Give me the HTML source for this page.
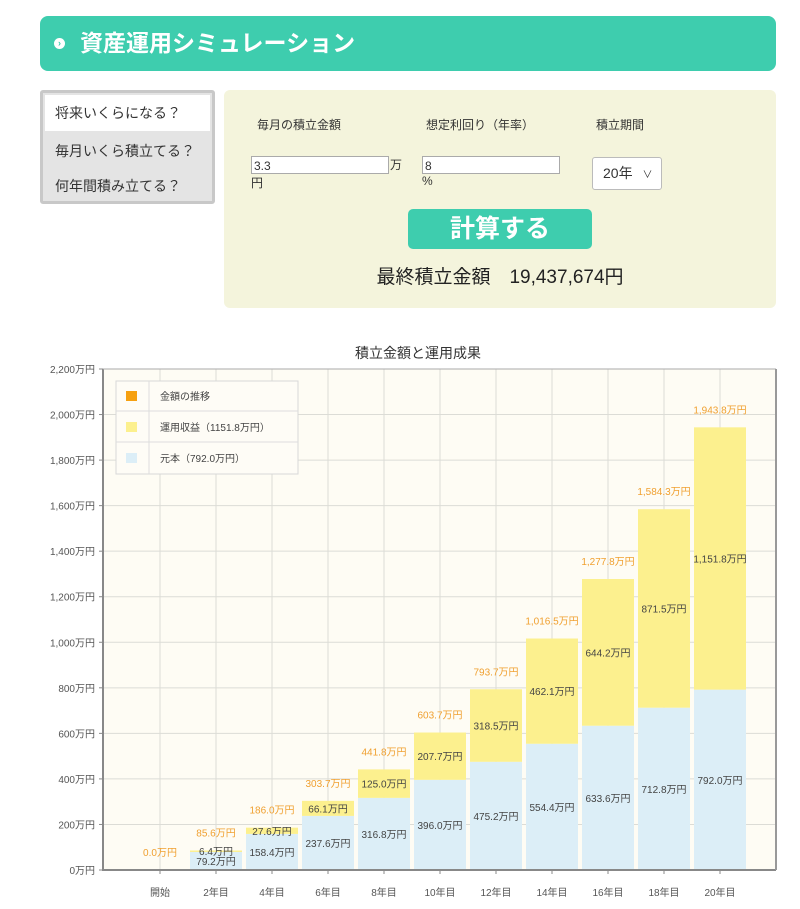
<!DOCTYPE html>
<html><head><meta charset="utf-8">
<style>
body{margin:0;width:800px;height:909px;background:#fff;font-family:"Liberation Sans","Noto Sans CJK JP",sans-serif;position:relative;overflow:hidden}
.abs{position:absolute}
</style></head><body>
<div class="abs" style="left:40px;top:16px;width:736px;height:55px;background:#3ecdae;border-radius:8px">
  <div class="abs" style="left:14px;top:22px;width:11px;height:11px;border-radius:50%;background:#fff;color:#3ecdae;font-size:9px;line-height:11px;text-align:center;font-weight:bold">›</div>
  <div class="abs" style="left:40px;top:12px;color:#fff;font-size:23px;font-weight:bold;line-height:30px">資産運用シミュレーション</div>
</div>
<div class="abs" style="left:40px;top:90px;width:175px;height:114px;background:#e4e4e4;border:3px solid #c8c8c8;box-sizing:border-box;border-radius:3px">
  <div class="abs" style="left:2px;top:2px;width:165px;height:36px;background:#fff;font-size:14px;line-height:36px;padding-left:10px;box-sizing:border-box;color:#333">将来いくらになる？</div>
  <div class="abs" style="left:2px;top:40px;width:165px;height:36px;font-size:14px;line-height:36px;padding-left:10px;box-sizing:border-box;color:#333">毎月いくら積立てる？</div>
  <div class="abs" style="left:2px;top:75px;width:165px;height:36px;font-size:14px;line-height:36px;padding-left:10px;box-sizing:border-box;color:#333">何年間積み立てる？</div>
</div>
<div class="abs" style="left:224px;top:90px;width:552px;height:218px;background:#f4f4dc;border-radius:6px;color:#333">
  <div class="abs" style="left:33px;top:26px;font-size:12px">毎月の積立金額</div>
  <div class="abs" style="left:202px;top:26px;font-size:12px">想定利回り（年率）</div>
  <div class="abs" style="left:372px;top:26px;font-size:12px">積立期間</div>
  <div class="abs" style="left:27px;top:66px;width:138px;height:18px;background:#fff;border:1px solid #aaa;font-size:12px;line-height:18px;padding-left:2px;box-sizing:border-box">3.3</div>
  <div class="abs" style="left:166px;top:66px;font-size:12px">万</div>
  <div class="abs" style="left:27px;top:84px;font-size:12px">円</div>
  <div class="abs" style="left:198px;top:66px;width:138px;height:18px;background:#fff;border:1px solid #aaa;font-size:12px;line-height:18px;padding-left:2px;box-sizing:border-box">8</div>
  <div class="abs" style="left:198px;top:84px;font-size:12px">%</div>
  <div class="abs" style="left:368px;top:67px;width:70px;height:33px;background:#fff;border:1px solid #bbb;border-radius:3px;box-sizing:border-box;font-size:14px;line-height:31px;padding-left:10px">20年 <span style="font-size:10px;margin-left:6px">∨</span></div>
  <div class="abs" style="left:184px;top:119px;width:184px;height:40px;background:#3ecdae;border-radius:5px;color:#fff;font-size:25px;font-weight:bold;text-align:center;line-height:40px">計算する</div>
  <div class="abs" style="left:0;top:172px;width:552px;text-align:center;font-size:19px;color:#222">最終積立金額　19,437,674円</div>
</div>
<svg class="abs" style="left:0;top:330px" width="800" height="579" id="chart"></svg>
<script>
const categories=["開始","2年目","4年目","6年目","8年目","10年目","12年目","14年目","16年目","18年目","20年目"];
const principal=[0,79.2,158.4,237.6,316.8,396.0,475.2,554.4,633.6,712.8,792.0];
const gains=[0,6.4,27.6,66.1,125.0,207.7,318.5,462.1,644.2,871.5,1151.8];
const totals=[0.0,85.6,186.0,303.7,441.8,603.7,793.7,1016.5,1277.8,1584.3,1943.8];
const yTicks=[0,200,400,600,800,1000,1200,1400,1600,1800,2000,2200];
const NS="http://www.w3.org/2000/svg";
const svg=document.getElementById('chart');
const OY=330;
const L=103,R=776,T=369-OY,B=870-OY,YMAX=2200;
const y=v=>B-(v/YMAX)*(B-T);
const x=i=>160+i*56;
const fmt=v=>v.toLocaleString('en-US',{minimumFractionDigits:1,maximumFractionDigits:1})+'万円';
function mk(tag,attrs,txt){const e=document.createElementNS(NS,tag);for(const k in attrs)e.setAttribute(k,attrs[k]);if(txt!==undefined)e.textContent=txt;svg.appendChild(e);return e;}
let e;
e=mk('text',{x:418,y:28,'text-anchor':'middle','font-size':14,fill:'#333'},'積立金額と運用成果');


e=mk('rect',{x:L,y:T,width:R-L,height:B-T,fill:'#fefcf4'});


yTicks.forEach(t=>{
  e=mk('line',{x1:L,x2:R,y1:y(t),y2:y(t),stroke:'#dcdcd6','stroke-width':1});
  
  
  e=mk('line',{x1:L-4,x2:L,y1:y(t),y2:y(t),stroke:'#888'});
  
  
  e=mk('text',{x:L-8,y:y(t)+4,'text-anchor':'end','font-size':10,fill:'#555'},t.toLocaleString('en-US')+'万円');
  
  
});
categories.forEach((c,i)=>{
  e=mk('line',{x1:x(i),x2:x(i),y1:T,y2:B,stroke:'#dcdcd6'});
  
  
});
categories.forEach((c,i)=>{
  const w=52,bx=x(i)-w/2;
  const hp=y(0)-y(principal[i]), hg=y(0)-y(gains[i]);
  if(principal[i]>0){
    e=mk('rect',{x:bx,y:y(principal[i]),width:w,height:hp,fill:'#dceef7'});
    
    
    e=mk('text',{x:x(i),y:y(principal[i]/2)+4,'text-anchor':'middle','font-size':10,fill:'#444'},fmt(principal[i]));
    
    
  }
  if(gains[i]>0){
    e=mk('rect',{x:bx,y:y(principal[i]+gains[i]),width:w,height:hg,fill:'#fcf08e'});
    
    
    e=mk('text',{x:x(i),y:y(principal[i]+gains[i]/2)+4,'text-anchor':'middle','font-size':10,fill:'#444'},fmt(gains[i]));
    
    
  }
  e=mk('text',{x:x(i),y:y(totals[i])-14,'text-anchor':'middle','font-size':10,fill:'#f0a030'},fmt(totals[i]));
  
  
  e=mk('text',{x:x(i),y:B+26,'text-anchor':'middle','font-size':10,fill:'#555'},c);
  
  
  e=mk('line',{x1:x(i),x2:x(i),y1:B,y2:B+4,stroke:'#888'});
  
  
});
e=mk('line',{x1:L,x2:L,y1:T,y2:B+1,stroke:'#888','stroke-width':2});


e=mk('line',{x1:L,x2:R,y1:B,y2:B,stroke:'#888','stroke-width':2});


e=mk('line',{x1:L,x2:R,y1:T,y2:T,stroke:'#aaa','stroke-width':1});


e=mk('line',{x1:R,x2:R,y1:T,y2:B,stroke:'#999','stroke-width':2});


// legend
e=mk('rect',{x:116,y:381-OY,width:182,height:93,fill:'#fefcf6',stroke:'#d8d8d8'});


e=mk('line',{x1:149,x2:149,y1:381-OY,y2:474-OY,stroke:'#ddd'});


const legItems=[['金額の推移','#f6a010'],['運用収益（1151.8万円）','#fcf08e'],['元本（792.0万円）','#dceef7']];
legItems.forEach((it,k)=>{
  const cy=396+k*31-OY;
  if(k>0){e=mk('line',{x1:116,x2:298,y1:cy-16,y2:cy-16,stroke:'#ddd'});
  
  }
  e=mk('rect',{x:126,y:cy-5,width:11,height:10,fill:it[1]});
  
  
  e=mk('text',{x:160,y:cy+4,'font-size':10,fill:'#444'},it[0]);
  
  
});
</script>
</body></html>
